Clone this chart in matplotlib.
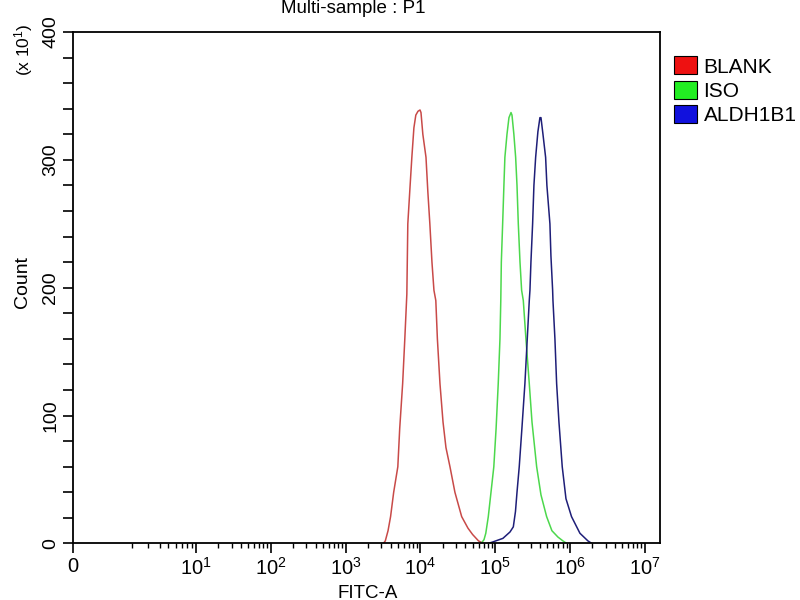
import numpy as np
import matplotlib
matplotlib.use('Agg')
from matplotlib import pyplot as plt
from matplotlib.patches import Patch

plt.rcParams['font.family'] = ['Liberation Sans', 'DejaVu Sans']
plt.rcParams['mathtext.fontset'] = 'custom'
plt.rcParams['mathtext.rm'] = 'Liberation Sans'

# histogram outlines: FITC-A value, count (x10)
blank_x = [3.2e3, 3.4e3, 3.7e3, 4.0e3, 4.4e3, 5.0e3, 5.3e3, 5.8e3, 6.2e3, 6.6e3, 6.8e3,
           7.3e3, 7.7e3, 8.2e3, 8.7e3, 9.3e3, 9.9e3, 1.02e4, 1.08e4, 1.19e4, 1.26e4,
           1.34e4, 1.43e4, 1.52e4, 1.61e4, 1.69e4, 1.83e4, 2.01e4, 2.20e4, 2.49e4,
           2.90e4, 3.57e4, 4.33e4, 5.0e4, 6.0e4, 7.0e4]
blank_y = [0, 2, 10, 21, 40, 60, 90, 125, 160, 195, 250,
           280, 302, 325, 335, 338, 339, 337, 320, 302, 275,
           250, 220, 198, 190, 160, 125, 95, 75, 60,
           40, 21, 12, 7, 2, 0]

iso_x = [6.5e4, 7.1e4, 7.5e4, 8.1e4, 8.8e4, 9.6e4, 1.03e5, 1.10e5, 1.16e5, 1.19e5, 1.21e5,
         1.26e5, 1.31e5, 1.35e5, 1.44e5, 1.53e5, 1.63e5, 1.68e5, 1.78e5, 1.88e5, 1.96e5,
         2.04e5, 2.15e5, 2.26e5, 2.38e5, 2.58e5, 2.86e5, 3.11e5, 3.59e5, 4.10e5,
         4.88e5, 5.74e5, 6.92e5, 8.07e5, 9.1e5]
iso_y = [0, 3, 8, 21, 40, 60, 90, 125, 160, 190, 220,
         250, 280, 302, 320, 333, 337, 335, 320, 302, 280,
         250, 220, 198, 190, 160, 125, 95, 60, 38,
         21, 10, 5, 2, 0]

aldh_x = [8.0e4, 9.1e4, 1.27e5, 1.58e5, 1.75e5, 1.87e5, 1.96e5, 2.10e5, 2.28e5, 2.50e5,
          2.66e5, 2.86e5, 2.92e5, 3.01e5, 3.17e5, 3.30e5, 3.48e5, 3.73e5, 3.97e5, 4.10e5,
          4.36e5, 4.73e5, 4.92e5, 5.40e5, 5.57e5, 5.87e5, 5.93e5, 6.30e5, 6.64e5,
          7.13e5, 7.89e5, 8.85e5, 1.05e6, 1.36e6, 1.74e6, 1.97e6]
aldh_y = [0, 1, 4, 9, 13, 25, 40, 60, 90, 125,
          155, 190, 198, 220, 250, 280, 302, 322, 333, 333,
          320, 302, 280, 250, 225, 198, 190, 160, 125,
          95, 60, 35, 21, 8, 2, 0]

labels = ['BLANK', 'ISO', 'ALDH1B1']
line_colors = ['#c84a48', '#4cd84c', '#1e1e78']
key_colors = ['#ee1111', '#22ee22', '#1111dd']

x_major = [0, 1e1, 1e2, 1e3, 1e4, 1e5, 1e6, 1e7]
x_major_labels = ['0'] + [r'$\mathregular{10^{%d}}$' % k for k in range(1, 8)]
y_major = [0, 100, 200, 300, 400]


# display scale: log above 10, stretched log between 1 and 10, linear near 0
def fwd(x):
    x = np.asarray(x, float)
    xs = np.maximum(x, 1e-12)
    lo = -0.64 + 0.42 * x
    mid = 1 - 1.22 * (1 - np.log10(xs))
    hi = np.log10(xs)
    return np.where(x < 1, lo, np.where(x < 10, mid, hi))


def inv(u):
    u = np.asarray(u, float)
    with np.errstate(over='ignore'):
        lo = (u + 0.64) / 0.42
        mid = 10 ** (1 - (1 - u) / 1.22)
        hi = 10 ** np.minimum(u, 300)
    return np.where(u < -0.22, lo, np.where(u < 1, mid, hi))


fig = plt.figure(figsize=(8, 6), dpi=100)
ax = fig.add_axes([0.0916, 0.0942, 0.7334, 0.8525])
ax.set_xscale('function', functions=(fwd, inv))

ax.plot(blank_x, blank_y, c=line_colors[0], lw=1.1)
ax.plot(iso_x, iso_y, c=line_colors[1], lw=1.1)
ax.plot(aldh_x, aldh_y, c=line_colors[2], lw=1.1)

ax.set_xlim(0, 1.6e7)
ax.set_ylim(0, 400)

x_minor = [m * 10 ** k for k in range(0, 7) for m in range(2, 10)]
ax.set_xticks(x_major)
ax.set_xticklabels(x_major_labels)
ax.set_xticks(x_minor, minor=True)
ax.set_yticks(y_major)
ax.set_yticks(np.arange(0, 401, 20), minor=True)

for s in ax.spines.values():
    s.set_linewidth(1.3)
ax.tick_params(axis='x', which='major', length=7, width=1.2, labelsize=14.5, pad=3)
ax.tick_params(axis='x', which='minor', length=3.5, width=1.0)
ax.tick_params(axis='y', which='both', length=7, width=1.2, labelsize=14, pad=3)
for t in ax.get_yticklabels():
    t.set_rotation(90)
    t.set_va('center')

fig.text(0.441, 0.986, 'Multi-sample : P1', ha='center', va='center', fontsize=13.5)
fig.text(0.459, 0.004, 'FITC-A', ha='center', va='baseline', fontsize=13.5)
fig.text(0.028, 0.53, 'Count', rotation=90, ha='center', va='center', fontsize=14)
fig.text(0.030, 0.918, r'(x $\mathregular{10^{1}}$)', rotation=90, ha='center', va='center', fontsize=12.5)

handles = [Patch(facecolor=c, edgecolor='black', linewidth=0.8) for c in key_colors]
fig.legend(handles, labels, loc='upper left', bbox_to_anchor=(0.843, 0.906),
           frameon=False, fontsize=15, handlelength=1.1, handleheight=0.95,
           handletextpad=0.3, labelspacing=0.2, borderaxespad=0, borderpad=0)

fig.savefig('out.png', dpi=100)
